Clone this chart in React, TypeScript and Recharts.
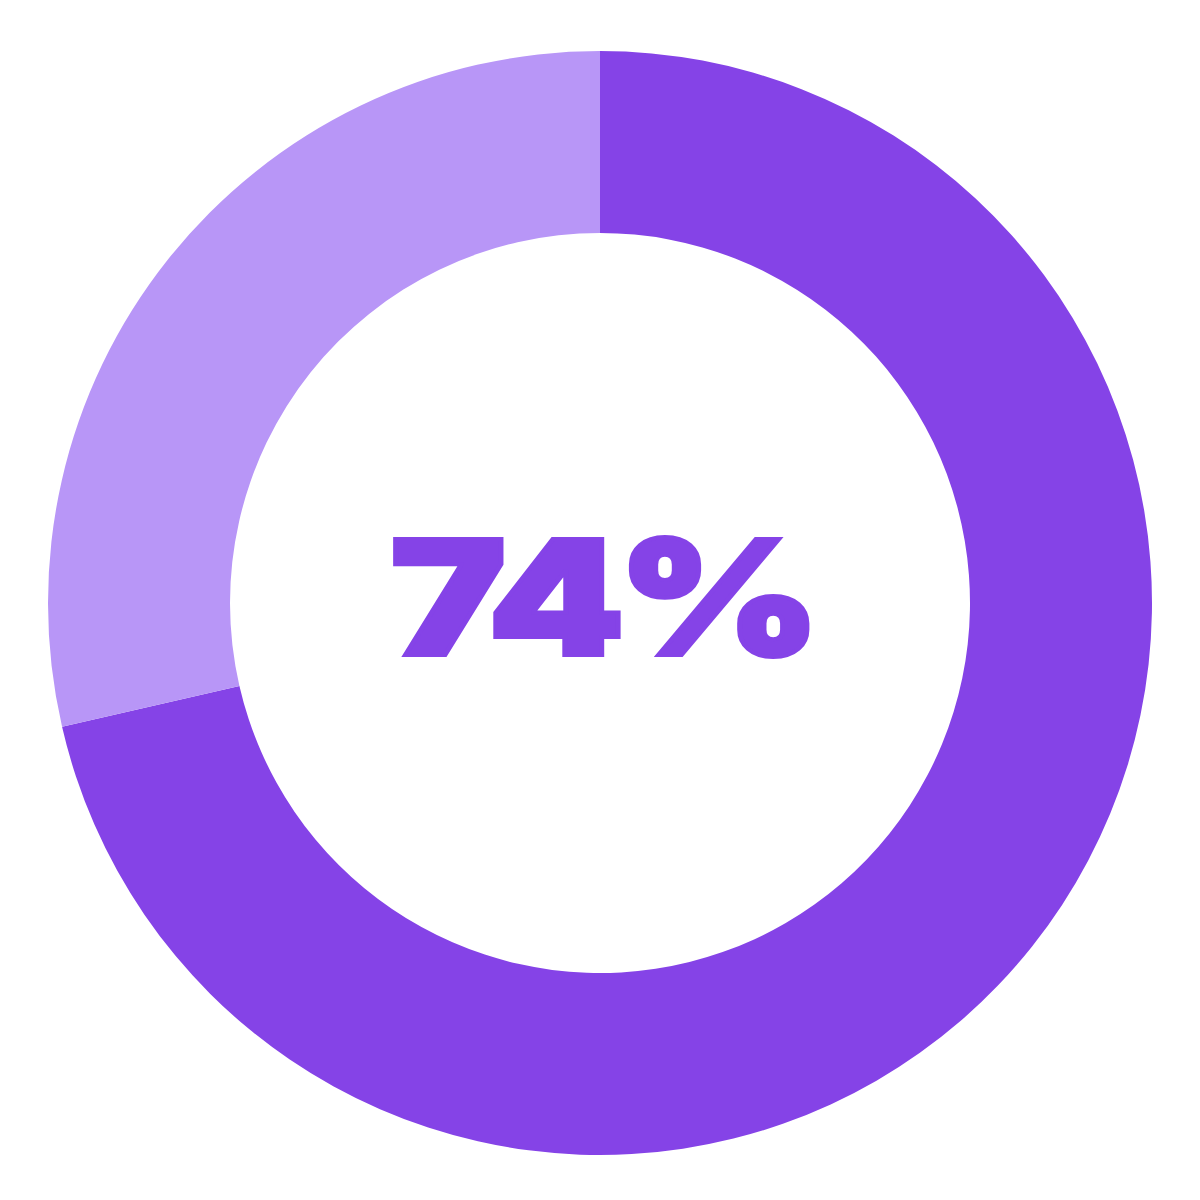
import { PieChart, Pie, Cell, Label } from "recharts";

// Shares as drawn in the ring (top, clockwise)
const segmentNames = ["Complete", "Remaining"];
const segmentValues = [71.4, 28.6];
const segmentColors = ["#8543E7", "#B896F7"];
const centerLabel = "74%";

const data = segmentNames.map((name, i) => ({ name, value: segmentValues[i] }));

function CenterText(props: any) {
  const vb = props.viewBox || {};
  const cx = vb.cx ?? 600;
  const cy = vb.cy ?? 603;
  return (
    <g transform={`translate(${cx + 2}, ${cy + 52}) scale(1.22, 1)`}>
      <text
        x={0}
        y={0}
        textAnchor="middle"
        fill="#8543E7"
        stroke="#8543E7"
        strokeWidth={4}
        fontFamily="Inter, 'DejaVu Sans', sans-serif"
        fontWeight={900}
        fontSize={160}
        letterSpacing={-6}
      >
        {centerLabel}
      </text>
    </g>
  );
}

export default function App() {
  return (
    <div style={{ margin: -8, width: 1200, height: 1200, background: "#fff" }}>
      <PieChart width={1200} height={1200} margin={{ top: 0, right: 0, bottom: 0, left: 0 }}>
        <Pie
          data={data}
          dataKey="value"
          nameKey="name"
          cx={600}
          cy={603}
          innerRadius={370}
          outerRadius={552}
          startAngle={90}
          endAngle={-270}
          stroke="none"
          isAnimationActive={false}
        >
          {data.map((d, i) => (
            <Cell key={d.name} fill={segmentColors[i]} />
          ))}
          <Label position="center" content={<CenterText />} />
        </Pie>
      </PieChart>
    </div>
  );
}
